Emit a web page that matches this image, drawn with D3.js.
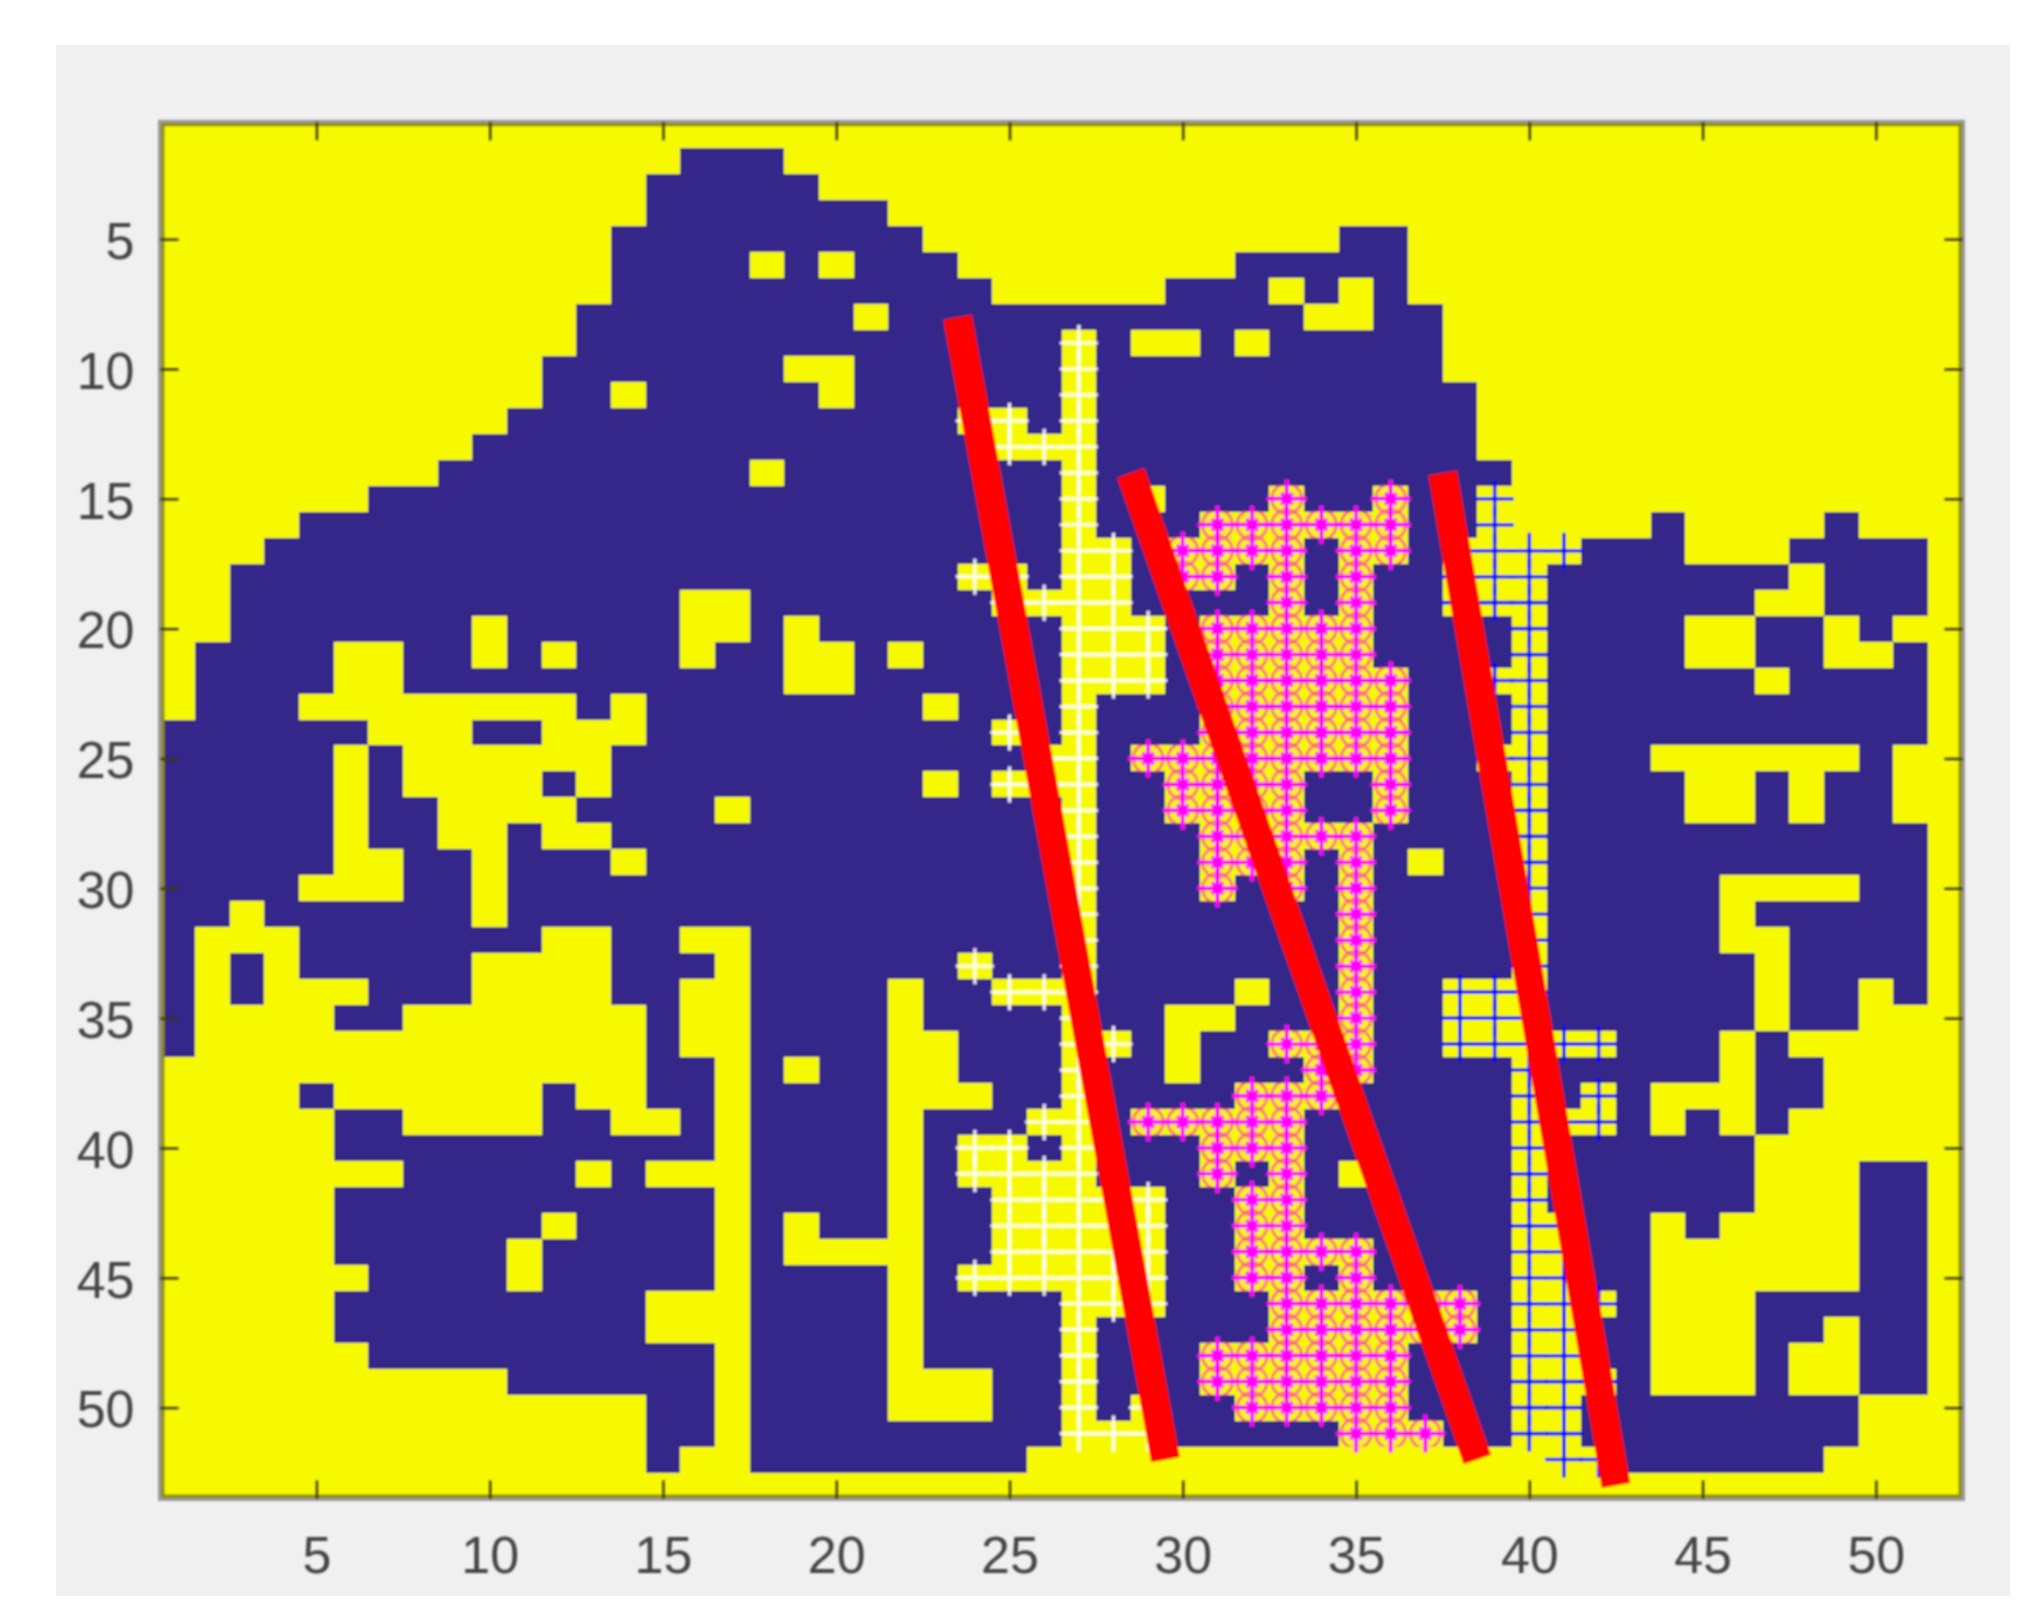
<!DOCTYPE html>
<html lang="en">
  <head>
    <meta charset="UTF-8" />
    <title>Document</title>
    <script src="https://cdn.jsdelivr.net/npm/d3@7"></script>
    <style>
      body {
        margin: 0;
        background: #fff;
      }
      text {
        font-family: "Liberation Sans", Arial, sans-serif;
      }
    </style>
  </head>
  <body>
    <script>
      const xTicks = [5, 10, 15, 20, 25, 30, 35, 40, 45, 50];
      const yTicks = [5, 10, 15, 20, 25, 30, 35, 40, 45, 50];
      const colCount = 52;
      const rowCount = 53;

      // navy runs per row, [first col, last col], everything else is yellow
      const navyRuns = [
        [],
        [[16, 18]],
        [[15, 19]],
        [[15, 21]],
        [[14, 22], [35, 36]],
        [[14, 17], [19, 19], [21, 23], [32, 36]],
        [[14, 24], [30, 32], [34, 34], [36, 36]],
        [[13, 20], [22, 33], [36, 37]],
        [[13, 26], [28, 28], [31, 31], [33, 37]],
        [[12, 18], [21, 26], [28, 37]],
        [[12, 13], [15, 19], [21, 26], [28, 38]],
        [[11, 23], [26, 26], [28, 38]],
        [[10, 24], [28, 38]],
        [[9, 17], [19, 26], [28, 39]],
        [[7, 26], [28, 28], [30, 32], [34, 35], [37, 38]],
        [[5, 26], [28, 30], [37, 38], [44, 44], [49, 49]],
        [[4, 26], [29, 29], [34, 34], [37, 37], [42, 44], [48, 51]],
        [[3, 23], [26, 26], [29, 29], [32, 32], [34, 34], [36, 37], [41, 47], [49, 51]],
        [[3, 15], [18, 24], [29, 32], [34, 34], [36, 37], [41, 46], [49, 51]],
        [[3, 9], [11, 15], [18, 18], [20, 26], [30, 30], [36, 39], [41, 44], [47, 48], [50, 50]],
        [[2, 5], [8, 9], [11, 11], [13, 15], [17, 18], [21, 21], [23, 26], [30, 30], [36, 39], [41, 44], [47, 48], [51, 51]],
        [[2, 5], [8, 18], [21, 26], [30, 30], [37, 38], [41, 46], [48, 51]],
        [[2, 4], [13, 13], [15, 22], [24, 26], [28, 30], [37, 39], [41, 51]],
        [[1, 6], [10, 11], [15, 24], [26, 26], [28, 30], [37, 39], [41, 51]],
        [[1, 5], [7, 7], [14, 25], [28, 28], [37, 38], [41, 43], [50, 50]],
        [[1, 5], [7, 7], [12, 12], [14, 22], [24, 24], [28, 29], [34, 35], [37, 39], [41, 44], [47, 47], [49, 50]],
        [[1, 5], [7, 8], [13, 16], [18, 26], [28, 29], [34, 35], [37, 39], [41, 44], [47, 47], [49, 50]],
        [[1, 5], [7, 8], [11, 11], [14, 26], [28, 30], [36, 39], [41, 51]],
        [[1, 5], [8, 9], [11, 13], [15, 26], [28, 30], [34, 34], [36, 36], [38, 39], [41, 51]],
        [[1, 4], [8, 9], [11, 26], [28, 30], [32, 32], [34, 34], [36, 39], [41, 45], [50, 51]],
        [[1, 2], [4, 9], [11, 26], [28, 34], [36, 39], [41, 45], [47, 51]],
        [[1, 1], [5, 11], [14, 15], [18, 26], [28, 34], [36, 39], [41, 45], [48, 51]],
        [[1, 1], [3, 3], [5, 9], [14, 16], [18, 23], [25, 26], [28, 34], [36, 39], [41, 46], [48, 51]],
        [[1, 1], [3, 3], [7, 9], [14, 15], [18, 21], [23, 24], [28, 31], [33, 34], [36, 37], [41, 46], [48, 49], [51, 51]],
        [[1, 1], [6, 7], [15, 15], [18, 21], [23, 26], [28, 29], [32, 34], [36, 37], [41, 46], [48, 49]],
        [[1, 1], [15, 15], [18, 21], [24, 26], [29, 29], [31, 32], [36, 37], [43, 45], [47, 47]],
        [[15, 16], [18, 18], [20, 21], [24, 26], [28, 29], [31, 33], [36, 39], [41, 45], [47, 48]],
        [[5, 5], [12, 12], [15, 16], [18, 21], [25, 26], [28, 31], [35, 39], [41, 41], [43, 43], [47, 48]],
        [[6, 7], [12, 13], [16, 16], [18, 21], [23, 25], [28, 28], [34, 39], [43, 43], [45, 45], [47, 47]],
        [[6, 16], [18, 21], [23, 23], [26, 26], [28, 30], [34, 39], [41, 46]],
        [[8, 12], [14, 14], [18, 21], [23, 23], [28, 30], [32, 32], [34, 34], [36, 39], [41, 46], [50, 51]],
        [[6, 16], [18, 21], [23, 24], [30, 31], [34, 39], [41, 46], [50, 51]],
        [[6, 11], [13, 16], [18, 18], [20, 21], [23, 24], [30, 31], [34, 39], [42, 43], [45, 45], [50, 51]],
        [[6, 10], [12, 16], [18, 18], [23, 24], [30, 31], [36, 39], [42, 43], [50, 51]],
        [[7, 10], [12, 16], [18, 21], [23, 23], [30, 31], [34, 34], [36, 39], [42, 43], [50, 51]],
        [[6, 14], [18, 21], [23, 26], [30, 32], [39, 39], [43, 43], [47, 51]],
        [[6, 14], [18, 21], [23, 26], [28, 32], [39, 39], [42, 43], [47, 48], [50, 51]],
        [[7, 16], [18, 21], [23, 26], [28, 30], [37, 39], [42, 43], [47, 47], [50, 51]],
        [[11, 16], [18, 21], [25, 26], [28, 30], [37, 39], [43, 43], [47, 47], [50, 51]],
        [[15, 16], [18, 21], [25, 26], [28, 28], [30, 31], [37, 39], [42, 49]],
        [[15, 16], [18, 26], [30, 34], [38, 39], [42, 49]],
        [[15, 15], [18, 25], [43, 48]],
        [],
      ];

      // hatched cells per row, [row, first col, last col]
      const whiteCells = [
        [9, 27, 27], [10, 27, 27], [11, 27, 27], [12, 24, 25], [12, 27, 27], [13, 25, 27],
        [14, 27, 27], [15, 27, 27], [16, 27, 27], [17, 27, 28], [18, 24, 25], [18, 27, 28],
        [19, 25, 28], [20, 27, 29], [21, 27, 29], [22, 27, 29], [23, 27, 27], [24, 25, 25],
        [24, 27, 27], [25, 26, 27], [26, 25, 27], [27, 27, 27], [28, 27, 27], [29, 27, 27],
        [30, 27, 27], [31, 27, 27], [32, 27, 27], [33, 24, 24], [33, 27, 27], [34, 25, 27],
        [35, 27, 27], [36, 27, 28], [37, 27, 27], [38, 27, 27], [39, 26, 27], [40, 24, 25],
        [40, 27, 27], [41, 24, 27], [42, 25, 29], [43, 25, 29], [44, 25, 29], [45, 24, 29],
        [46, 27, 29], [47, 27, 27], [48, 27, 27], [49, 27, 27], [50, 27, 27], [50, 29, 29],
        [51, 27, 29],
      ];
      const pinkCells = [
        [15, 33, 33], [15, 36, 36], [16, 31, 36], [17, 30, 33], [17, 35, 36], [18, 30, 31],
        [18, 33, 33], [18, 35, 35], [19, 33, 33], [19, 35, 35], [20, 31, 35], [21, 31, 35],
        [22, 31, 36], [23, 31, 36], [24, 31, 36], [25, 29, 36], [26, 30, 33], [26, 36, 36],
        [27, 30, 33], [27, 36, 36], [28, 31, 35], [29, 31, 33], [29, 35, 35], [30, 31, 31],
        [30, 33, 33], [30, 35, 35], [31, 35, 35], [32, 35, 35], [33, 35, 35], [34, 35, 35],
        [35, 35, 35], [36, 33, 35], [37, 34, 35], [38, 32, 34], [39, 29, 33], [40, 31, 33],
        [41, 31, 31], [41, 33, 33], [42, 32, 33], [43, 32, 33], [44, 32, 35], [45, 32, 33],
        [45, 35, 35], [46, 33, 38], [47, 33, 38], [48, 31, 36], [49, 31, 36], [50, 32, 36],
        [51, 35, 37],
      ];
      const blueCells = [
        [15, 39, 39], [16, 39, 39], [17, 38, 41], [18, 38, 40], [19, 38, 40], [20, 40, 40],
        [21, 40, 40], [22, 39, 40], [23, 40, 40], [24, 40, 40], [25, 39, 40], [26, 40, 40],
        [27, 40, 40], [28, 40, 40], [29, 40, 40], [30, 40, 40], [31, 40, 40], [32, 40, 40],
        [33, 40, 40], [34, 38, 40], [35, 38, 40], [36, 38, 42], [37, 40, 40], [38, 40, 40],
        [38, 42, 42], [39, 40, 42], [40, 40, 40], [41, 40, 40], [42, 40, 40], [43, 40, 41],
        [44, 40, 41], [45, 40, 41], [46, 40, 42], [47, 40, 41], [48, 40, 41], [49, 40, 42],
        [50, 40, 41], [51, 40, 41], [52, 41, 42],
      ];

      // the three red lines, in [col, row]
      const redLines = [
        [[23.5, 8], [29.5, 52]],
        [[28.5, 14], [38.5, 52]],
        [[37.5, 14], [42.5, 53]],
      ];

      const svgWidth = 2043;
      const svgHeight = 1619;

      const x = d3.scaleLinear().domain([0.5, colCount + 0.5]).range([160.5, 1962.5]);
      const y = d3.scaleLinear().domain([0.5, rowCount + 0.5]).range([122.3, 1498.5]);

      const svg = d3
        .select("body")
        .append("svg")
        .attr("width", svgWidth)
        .attr("height", svgHeight);

      const defs = svg.append("defs");
      defs
        .append("filter")
        .attr("id", "soft")
        .append("feGaussianBlur")
        .attr("stdDeviation", 0.8);

      svg
        .append("rect")
        .attr("x", 56)
        .attr("y", 45)
        .attr("width", 1954)
        .attr("height", 1551)
        .attr("fill", "#f0f0f0");

      const chart = svg.append("g").attr("filter", "url(#soft)");

      chart
        .append("rect")
        .attr("x", x(0.5))
        .attr("y", y(0.5))
        .attr("width", x(colCount + 0.5) - x(0.5))
        .attr("height", y(rowCount + 0.5) - y(0.5))
        .attr("fill", "#f6f900");

      const navyData = navyRuns.flatMap((runs, i) =>
        runs.map(([a, b]) => ({ row: i + 1, a, b }))
      );
      chart
        .selectAll(".navy")
        .data(navyData)
        .join("rect")
        .classed("navy", true)
        .attr("x", (d) => x(d.a - 0.5))
        .attr("y", (d) => y(d.row - 0.5))
        .attr("width", (d) => x(d.b + 0.5) - x(d.a - 0.5))
        .attr("height", (d) => y(d.row + 0.5) - y(d.row - 0.5))
        .attr("fill", "#36278a")
        .attr("shape-rendering", "crispEdges");

      const expand = (list) =>
        list.flatMap(([row, a, b]) =>
          d3.range(a, b + 1).map((col) => ({ row, col }))
        );

      const plusPath = (d, w, h) => {
        const cx = x(d.col);
        const cy = y(d.row);
        return `M${cx - w},${cy}H${cx + w}M${cx},${cy - h}V${cy + h}`;
      };
      const crossPath = (d, r) => {
        const cx = x(d.col);
        const cy = y(d.row);
        return `M${cx - r},${cy - r}L${cx + r},${cy + r}M${cx - r},${cy + r}L${cx + r},${cy - r}`;
      };

      chart
        .selectAll(".white")
        .data(expand(whiteCells))
        .join("path")
        .classed("white", true)
        .attr("d", (d) => plusPath(d, 19, 18))
        .attr("stroke", "#fff")
        .attr("stroke-opacity", 0.9)
        .attr("stroke-width", 3.2)
        .attr("fill", "none");

      chart
        .selectAll(".blue")
        .data(expand(blueCells))
        .join("path")
        .classed("blue", true)
        .attr("d", (d) => plusPath(d, 19, 18))
        .attr("stroke", "#0000ff")
        .attr("stroke-width", 3.6)
        .attr("fill", "none");

      // rings stay inside the pink cells, only the spikes reach out
      const pink = expand(pinkCells);
      defs
        .append("clipPath")
        .attr("id", "pink-cells")
        .selectAll("rect")
        .data(pink)
        .join("rect")
        .attr("x", (d) => x(d.col - 0.5) - 0.5)
        .attr("y", (d) => y(d.row - 0.5) - 0.5)
        .attr("width", x(2) - x(1) + 1)
        .attr("height", y(2) - y(1) + 1);

      chart
        .append("g")
        .attr("clip-path", "url(#pink-cells)")
        .selectAll(".ring")
        .data(pink)
        .join("circle")
        .classed("ring", true)
        .attr("cx", (d) => x(d.col))
        .attr("cy", (d) => y(d.row))
        .attr("r", 15)
        .attr("stroke", "#ff5a90")
        .attr("stroke-opacity", 0.85)
        .attr("stroke-width", 3)
        .attr("fill", "none");
      chart
        .selectAll(".cross")
        .data(pink)
        .join("path")
        .classed("cross", true)
        .attr("d", (d) => crossPath(d, 6))
        .attr("stroke", "#ff00ff")
        .attr("stroke-width", 3.4)
        .attr("fill", "none");
      chart
        .selectAll(".plus")
        .data(pink)
        .join("path")
        .classed("plus", true)
        .attr("d", (d) => plusPath(d, 20, 19))
        .attr("stroke", "#ff00ff")
        .attr("stroke-width", 4.4)
        .attr("fill", "none");

      const redLine = d3
        .line()
        .x((d) => x(d[0]))
        .y((d) => y(d[1]));
      chart
        .selectAll(".red")
        .data(redLines)
        .join("path")
        .classed("red", true)
        .attr("d", redLine)
        .attr("stroke", "#ff0000")
        .attr("stroke-width", 29)
        .attr("fill", "none");

      // frame, a dark olive edge inside a light grey one
      const frame = (inset, color, width) =>
        chart
          .append("rect")
          .attr("x", x(0.5) + inset)
          .attr("y", y(0.5) + inset)
          .attr("width", x(colCount + 0.5) - x(0.5) - 2 * inset)
          .attr("height", y(rowCount + 0.5) - y(0.5) - 2 * inset)
          .attr("fill", "none")
          .attr("stroke", color)
          .attr("stroke-width", width);
      frame(2, "#8e8c10", 4);
      frame(-1, "#9a9a9a", 3);

      const styleAxis = (g) => {
        g.select(".domain").remove();
        g.selectAll("line").attr("stroke", "#3a3a10").attr("stroke-width", 2.4);
        g.selectAll("text")
          .attr("font-size", 52)
          .attr("fill", "#444")
          .attr("font-family", '"Liberation Sans", Arial, sans-serif');
      };

      const axes = svg.append("g").attr("filter", "url(#soft)");

      axes
        .append("g")
        .attr("transform", `translate(0,${y(rowCount + 0.5)})`)
        .call(d3.axisBottom(x).tickValues(xTicks).tickSize(-18).tickPadding(38))
        .call(styleAxis);
      axes
        .append("g")
        .attr("transform", `translate(0,${y(0.5)})`)
        .call(d3.axisTop(x).tickValues(xTicks).tickSize(-18).tickFormat(""))
        .call(styleAxis);
      axes
        .append("g")
        .attr("transform", `translate(${x(0.5)},0)`)
        .call(d3.axisLeft(y).tickValues(yTicks).tickSize(-18).tickPadding(26))
        .call(styleAxis)
        .call((g) => g.selectAll("text").attr("dy", "0.37em"));
      axes
        .append("g")
        .attr("transform", `translate(${x(colCount + 0.5)},0)`)
        .call(d3.axisRight(y).tickValues(yTicks).tickSize(-18).tickFormat(""))
        .call(styleAxis);
    </script>
  </body>
</html>
